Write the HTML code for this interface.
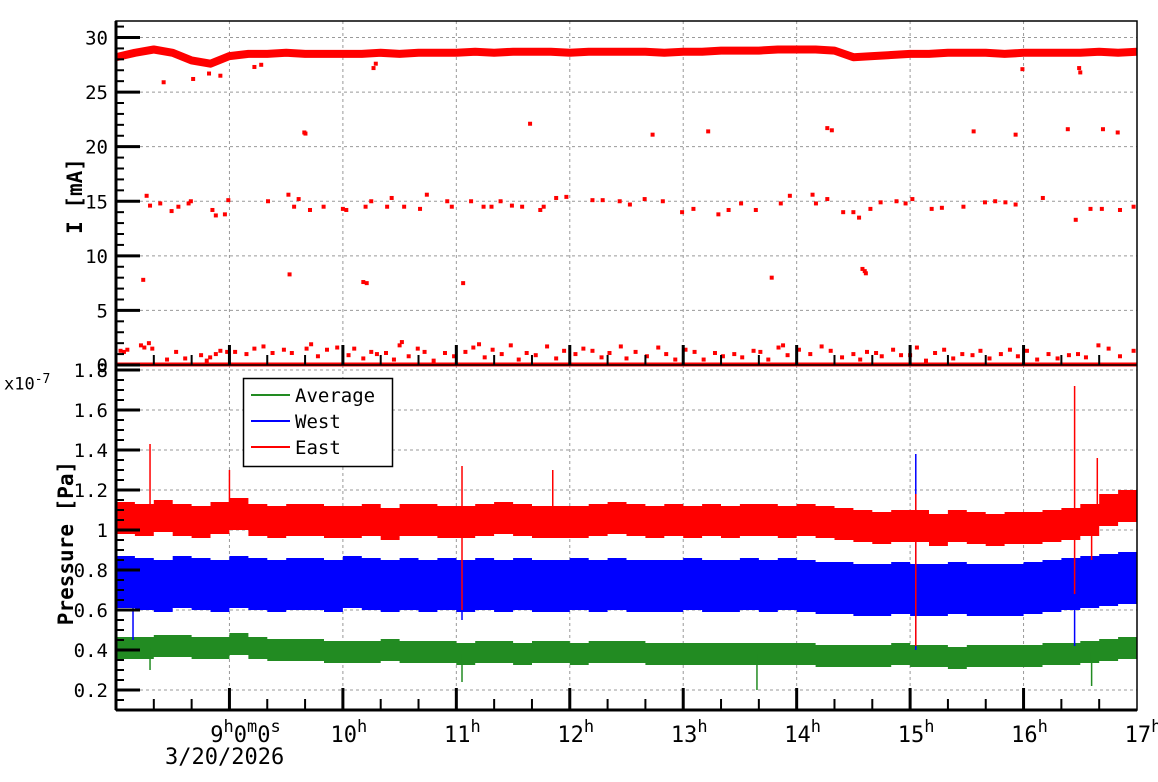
<!DOCTYPE html>
<html><head><meta charset="utf-8"><style>
html,body{margin:0;padding:0;background:#fff;}
svg{display:block;font-family:"DejaVu Sans Mono","Liberation Mono",monospace;}
</style></head><body>
<svg id="chart" width="1158" height="782" xmlns="http://www.w3.org/2000/svg">
<defs><clipPath id="plotClip"><rect x="116" y="21" width="1021" height="689"/></clipPath></defs>
</svg>
<script>
// ---------- data ----------
const binStartHour = 8, binStepHour = 1/6;
const currentBand = [28.2,28.6,28.9,28.6,27.9,27.6,28.3,28.5,28.5,28.6,28.5,28.5,28.5,28.5,28.6,28.5,28.6,28.6,28.6,28.7,28.6,28.7,28.7,28.7,28.6,28.7,28.7,28.7,28.7,28.6,28.7,28.7,28.8,28.8,28.8,28.9,28.9,28.9,28.8,28.2,28.3,28.4,28.5,28.5,28.6,28.6,28.6,28.5,28.6,28.6,28.6,28.6,28.7,28.6,28.7];
const pointsMid = [[8.27,15.5],[8.30,14.6],[8.39,14.8],[8.49,14.1],[8.55,14.5],[8.64,14.8],[8.66,15],[8.85,14.2],[8.88,13.7],[8.96,13.8],[8.99,15.1],[9.34,15],[9.52,15.6],[9.57,14.5],[9.61,15.2],[9.71,14.2],[9.83,14.5],[10.00,14.3],[10.03,14.2],[10.20,14.5],[10.25,15],[10.39,14.5],[10.43,15.3],[10.54,14.5],[10.68,14.3],[10.74,15.6],[10.92,15],[10.96,14.5],[11.13,15],[11.24,14.5],[11.31,14.5],[11.39,15],[11.49,14.6],[11.58,14.5],[11.74,14.2],[11.77,14.5],[11.88,15.3],[11.97,15.4],[12.20,15.1],[12.29,15.1],[12.44,15],[12.53,14.7],[12.66,15.2],[12.82,15],[12.99,14],[13.09,14.3],[13.31,13.8],[13.40,14.2],[13.51,14.8],[13.64,14.2],[13.86,14.8],[13.94,15.5],[14.14,15.6],[14.17,14.8],[14.27,15.2],[14.41,14],[14.50,14],[14.55,13.5],[14.65,14.3],[14.74,14.9],[14.88,15],[14.96,14.8],[15.02,15.2],[15.19,14.3],[15.28,14.4],[15.47,14.5],[15.66,14.9],[15.75,15],[15.84,14.9],[15.93,14.7],[16.17,15.3],[16.46,13.3],[16.59,14.3],[16.69,14.3],[16.85,14.2],[16.97,14.5],
[8.24,7.8],[9.53,8.3],[10.18,7.6],[10.21,7.5],[11.06,7.5],[11.65,22.1],[9.67,21.2],[9.66,21.3],[12.73,21.1],[13.22,21.4],[14.27,21.7],[14.31,21.5],[13.78,8],[14.58,8.8],[14.61,8.4],[14.60,8.6],[15.56,21.4],[15.93,21.1],[16.39,21.6],[16.70,21.6],[16.83,21.3],[8.42,25.9],[8.68,26.2],[9.28,27.5],[9.22,27.3],[16.50,26.8],[16.49,27.2],[15.99,27.1],[10.27,27.2],[10.29,27.6],[8.82,26.7],[8.92,26.5]];
const pointsLow = [[8.04,1.3],[8.07,1.2],[8.10,1.4],[8.22,1.8],[8.25,1.6],[8.29,2.0],[8.32,1.5],[8.45,0.5],[8.53,1.2],[8.61,0.6],[8.75,0.9],[8.80,0.4],[8.83,0.7],[8.88,1.0],[8.92,1.3],[8.98,1.2],[9.05,1.2],[9.15,1.0],[9.22,1.5],[9.30,1.7],[9.38,1.1],[9.48,1.4],[9.55,1.1],[9.68,1.5],[9.72,1.9],[9.78,0.8],[9.86,1.4],[9.95,1.6],[10.05,0.9],[10.10,1.5],[10.18,0.6],[10.25,1.2],[10.30,1.0],[10.38,1.1],[10.45,0.5],[10.50,1.8],[10.52,2.1],[10.58,0.8],[10.66,1.5],[10.72,1.2],[10.80,0.4],[10.90,1.1],[10.98,0.8],[11.08,1.2],[11.15,1.6],[11.20,1.9],[11.25,0.7],[11.32,1.4],[11.40,1.0],[11.48,1.8],[11.55,0.5],[11.62,1.1],[11.70,0.9],[11.80,1.7],[11.88,0.6],[11.95,1.3],[12.05,1.0],[12.12,1.5],[12.20,1.3],[12.28,0.7],[12.35,1.1],[12.45,1.7],[12.50,0.6],[12.58,1.2],[12.68,0.8],[12.78,1.6],[12.85,1.0],[12.93,0.5],[13.02,1.4],[13.10,1.2],[13.18,0.5],[13.28,1.1],[13.35,0.8],[13.45,1.0],[13.52,0.7],[13.62,1.3],[13.68,1.2],[13.75,0.5],[13.84,1.6],[13.88,1.8],[13.92,0.9],[14.02,1.4],[14.12,1.0],[14.22,1.7],[14.30,1.3],[14.40,0.7],[14.50,1.0],[14.56,0.5],[14.62,1.2],[14.70,1.1],[14.75,0.8],[14.85,1.4],[14.92,0.9],[15.00,0.9],[15.06,1.6],[15.14,0.4],[15.22,1.1],[15.30,1.4],[15.38,0.6],[15.46,1.0],[15.55,0.9],[15.62,1.3],[15.70,0.6],[15.80,1.0],[15.88,1.4],[15.95,0.8],[16.03,1.3],[16.12,0.5],[16.22,1.0],[16.30,0.6],[16.40,0.9],[16.48,1.0],[16.55,0.7],[16.66,1.8],[16.75,1.5],[16.85,0.8],[16.97,1.3]];
const eastCenter = [1.06,1.05,1.07,1.05,1.04,1.06,1.08,1.05,1.04,1.05,1.05,1.04,1.04,1.05,1.03,1.05,1.05,1.04,1.04,1.05,1.06,1.05,1.04,1.04,1.04,1.05,1.06,1.05,1.04,1.05,1.04,1.05,1.04,1.05,1.05,1.04,1.05,1.04,1.03,1.02,1.01,1.02,1.02,1.00,1.02,1.01,1.00,1.01,1.01,1.02,1.03,1.05,1.10,1.12,1.11];
const westCenter = [0.74,0.73,0.72,0.74,0.73,0.72,0.74,0.73,0.72,0.73,0.73,0.72,0.74,0.73,0.72,0.73,0.72,0.73,0.72,0.73,0.72,0.73,0.72,0.72,0.73,0.72,0.73,0.72,0.72,0.72,0.73,0.72,0.72,0.73,0.72,0.73,0.72,0.71,0.71,0.70,0.70,0.71,0.70,0.70,0.71,0.70,0.70,0.70,0.71,0.72,0.73,0.74,0.75,0.76,0.75];
const avgCenter = [0.41,0.41,0.42,0.42,0.41,0.41,0.43,0.41,0.40,0.40,0.40,0.39,0.39,0.39,0.40,0.39,0.39,0.39,0.38,0.39,0.39,0.38,0.39,0.39,0.38,0.39,0.39,0.39,0.38,0.38,0.38,0.38,0.38,0.38,0.38,0.38,0.38,0.37,0.37,0.37,0.37,0.38,0.37,0.37,0.36,0.37,0.37,0.37,0.37,0.38,0.38,0.39,0.40,0.41,0.41];
const eastHalf = 0.08, westHalf = 0.13, avgHalf = 0.055;
const eastSpikes = [[8.30,1.43],[9.00,1.30],[11.05,1.32],[11.05,0.60],[11.85,1.30],[16.45,1.72],[16.45,0.68],[16.65,1.36],[16.6,0.85],[15.05,0.42],[15.05,1.18]];
const westSpikes = [[15.05,1.38],[15.05,0.40],[16.45,0.42],[11.05,0.55],[8.15,0.45]];
const avgSpikes = [[13.65,0.20],[16.6,0.22],[11.05,0.24],[8.3,0.30]];
const yTopTicks = [0,5,10,15,20,25,30];
const yBotTicks = [0.2,0.4,0.6,0.8,1,1.2,1.4,1.6,1.8];
const yBotLabels = ["0.2","0.4","0.6","0.8","1","1.2","1.4","1.6","1.8"];
const hourTicks = [9,10,11,12,13,14,15,16,17];

// ---------- scales ----------
const L=116,R=1137,T1=21,B1=365,T2=365,B2=710;
const xS=h=>L+(h-8)/9*(R-L);
const yTop=v=>365-(v/30)*(365-37.5);
const yBot=v=>690-(v-0.2)/1.6*(690-370);
const svg=document.getElementById('chart');
const NS='http://www.w3.org/2000/svg';
function mk(tag,attrs,parent){const e=document.createElementNS(NS,tag);for(const k in attrs)e.setAttribute(k,attrs[k]);(parent||svg).appendChild(e);return e;}

// grids
const grid=mk('g',{stroke:'#999','stroke-dasharray':'3,3','stroke-width':1});


hourTicks.forEach(h=>{if(h<17){mk('line',{x1:xS(h),x2:xS(h),y1:T1,y2:B1},grid);mk('line',{x1:xS(h),x2:xS(h),y1:T2,y2:B2},grid);}});
yTopTicks.forEach(v=>{if(v>0)mk('line',{x1:L,x2:R,y1:yTop(v),y2:yTop(v)},grid);});
yBotTicks.forEach(v=>mk('line',{x1:L,x2:R,y1:yBot(v),y2:yBot(v)},grid));

// ---------- top panel ----------
const topG=mk('g',{fill:'#f00','clip-path':'url(#plotClip)'});


mk('rect',{x:L,y:yTop(0)-2.5,width:R-L,height:4},topG);
let bp='';currentBand.forEach((v,i)=>{bp+=(i?'L':'M')+xS(binStartHour+i*binStepHour).toFixed(1)+','+yTop(v).toFixed(1);});
mk('path',{d:bp,fill:'none',stroke:'#f00','stroke-width':8,'stroke-linejoin':'round'},topG);
pointsMid.concat(pointsLow).forEach(p=>{mk('rect',{x:xS(p[0])-2,y:yTop(p[1])-2,width:4,height:4},topG);});

// ---------- bottom panel ----------
function band(center,half,color,name,spikes){
  const g=mk('g',{'clip-path':'url(#plotClip)'});
  
  
  let up='',dn='';
  center.forEach((c,i)=>{
    const x0=xS(binStartHour+i*binStepHour), x1=Math.min(R,xS(binStartHour+(i+1)*binStepHour));
    up+=(i?'L':'M')+x0.toFixed(1)+','+yBot(c+half).toFixed(1)+'L'+x1.toFixed(1)+','+yBot(c+half).toFixed(1);
  });
  for(let i=center.length-1;i>=0;i--){
    const c=center[i],x0=xS(binStartHour+i*binStepHour),x1=Math.min(R,xS(binStartHour+(i+1)*binStepHour));
    dn+='L'+x1.toFixed(1)+','+yBot(c-half).toFixed(1)+'L'+x0.toFixed(1)+','+yBot(c-half).toFixed(1);
  }
  mk('path',{d:up+dn+'Z',fill:color},g);
  spikes.forEach(s=>{const i=Math.min(center.length-1,Math.floor((s[0]-binStartHour)/binStepHour));mk('line',{x1:xS(s[0]),x2:xS(s[0]),y1:yBot(center[i]),y2:yBot(s[1]),stroke:color,'stroke-width':1.5},g);});
}
band(avgCenter,avgHalf,'#228b22','average-series',avgSpikes);
band(westCenter,westHalf,'#0000ff','west-series',westSpikes);
band(eastCenter,eastHalf,'#ff0000','east-series',eastSpikes);

// frames & ticks
const ax=mk('g',{stroke:'#000',fill:'none'});


mk('rect',{x:L,y:T1,width:R-L,height:B2-T1,'stroke-width':1.5},ax);
mk('line',{x1:L,x2:L,y1:T1,y2:B2,'stroke-width':3},ax);
mk('line',{x1:L,x2:R,y1:B2,y2:B2,'stroke-width':3},ax);
mk('line',{x1:L,x2:R,y1:365,y2:365,'stroke-width':1.5},ax);
for(let v=0;v<=31;v++){const y=yTop(v);mk('line',{x1:L,x2:L+(v%5?8:24),y1:y,y2:y,'stroke-width':v%5?2:3},ax);}
for(let k=2;k<=36;k++){const v=k*0.05,y=yBot(v);if(y<T2+1)continue;mk('line',{x1:L,x2:L+(k%4?8:24),y1:y,y2:y,'stroke-width':k%4?2:3},ax);}
for(let m=1;m<27;m++){const h=8+m/3,x=xS(h),maj=m%3===0;
  mk('line',{x1:x,x2:x,y1:B2,y2:B2-(maj?22:11),'stroke-width':maj?3:2},ax);
  mk('line',{x1:x,x2:x,y1:B1,y2:B1-(maj?20:10),'stroke-width':maj?3:2},ax);}

// labels
const lab=mk('g',{'font-size':19,fill:'#000','text-anchor':'end'});


yTopTicks.forEach(v=>{const t=mk('text',{x:108,y:yTop(v)+7},lab);t.textContent=v;});
yBotTicks.forEach((v,i)=>{const t=mk('text',{x:108,y:yBot(v)+7},lab);t.textContent=yBotLabels[i];});
hourTicks.forEach(h=>{
  const t=mk('text',{x:xS(h),y:742,'text-anchor':'middle','font-size':22},lab);
  if(h===9){t.innerHTML='9<tspan dy="-10" font-size="17">h</tspan><tspan dy="10">0</tspan><tspan dy="-10" font-size="17">m</tspan><tspan dy="10">0</tspan><tspan dy="-10" font-size="17">s</tspan>';t.setAttribute('x',xS(h)+16);}
  else{t.innerHTML=h+'<tspan dy="-10" font-size="17">h</tspan>';t.setAttribute('x',xS(h)+6);}
});

// legend
const lg=mk('g',{});


mk('rect',{x:243.5,y:378.5,width:149,height:88,fill:'#fff',stroke:'#000','stroke-width':1.5},lg);
const legendNames=['Average','West','East'];
const legendColors=['#228b22','#0000ff','#ff0000'];
legendNames.forEach((n,i)=>{
  const e=mk('g',{},lg);
  
  
  const y=395+i*26;
  mk('line',{x1:251,x2:290,y1:y,y2:y,stroke:legendColors[i],'stroke-width':2},e);
  const t=mk('text',{x:295,y:y+7,'font-size':19,fill:'#000'},e);t.textContent=n;
});
</script>
<div style="position:absolute;left:0;top:0;width:1158px;height:782px;pointer-events:none;font-family:'DejaVu Sans Mono','Liberation Mono',monospace;">
  <div style="position:absolute;left:165px;top:745px;font-size:22px;">3/20/2026</div>
  <div style="position:absolute;left:4px;top:372px;font-size:17px;">x10<sup style="font-size:13px">-7</sup></div>
  <div style="position:absolute;left:75px;top:196px;font-size:21px;font-weight:bold;transform:translate(-50%,-50%) rotate(-90deg);white-space:nowrap;">I [mA]</div>
  <div style="position:absolute;left:66px;top:543px;font-size:21px;font-weight:bold;transform:translate(-50%,-50%) rotate(-90deg);white-space:nowrap;">Pressure [Pa]</div>
</div>
</body></html>
